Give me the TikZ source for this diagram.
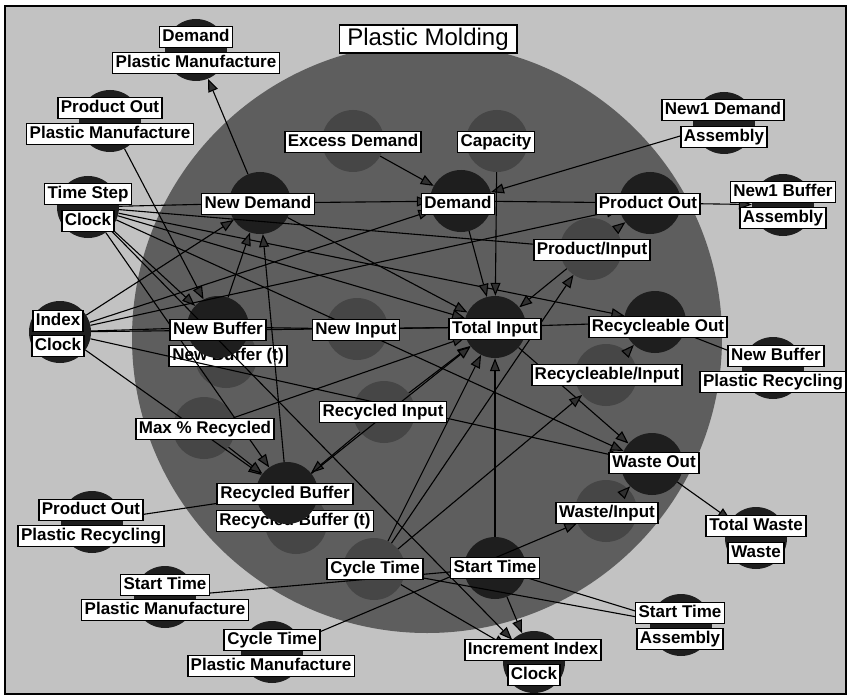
\documentclass[tikz,border=0pt]{standalone}
\usepackage{fontspec}
\setmainfont{Liberation Sans}
\usetikzlibrary{arrows.meta}
\definecolor{bgg}{HTML}{C2C2C2}
\definecolor{bigc}{HTML}{5E5E5E}
\definecolor{medc}{HTML}{464646}
\definecolor{dkc}{HTML}{1E1E1E}
\definecolor{arg}{HTML}{303030}
\begin{document}
\begin{tikzpicture}[x=1pt,y=-1pt,
 dk/.style={circle,fill=dkc,minimum size=62pt,inner sep=0pt},
 md/.style={circle,fill=medc,minimum size=62pt,inner sep=0pt},
 lbl/.style={draw=black,line width=1.6pt,fill=white,font=\bfseries\fontsize{17}{17}\selectfont,inner xsep=3pt,inner ysep=2.5pt,text height=12.5pt,text depth=3.5pt},
 ttl/.style={draw=black,line width=1.6pt,fill=white,font=\fontsize{24}{24}\selectfont,inner xsep=8pt,inner ysep=3pt,text height=17.5pt,text depth=5pt},
 ar/.style={line width=1.1pt,-{Triangle[length=13pt,width=10pt,fill=arg]}}]
\useasboundingbox (0,0) rectangle (849,698);
\fill[white] (0,0) rectangle (849,698);
\fill[bgg] (5,6) rectangle (846,694);
\draw[line width=2pt] (5,6) rectangle (846,694);
\fill[bigc] (427,338) circle[radius=295];
\node[ttl] (title) at (428,39) {Plastic Molding};
% external circles
\node[dk] (DemPM) at (196,50) {};
\node[dk] (POPM) at (110,121) {};
\node[dk] (TS) at (88,207) {};
\node[dk] (Idx) at (60,332) {};
\node[dk] (N1D) at (724,123) {};
\node[dk] (N1B) at (783,205) {};
\node[dk] (NBPR) at (773,368) {};
\node[dk] (POPR) at (92,522) {};
\node[dk] (STPM) at (165,597) {};
\node[dk] (CTPM) at (272,652) {};
\node[dk] (TW) at (756,538) {};
\node[dk] (STA) at (681,625) {};
\node[dk] (II) at (534,662) {};
% internal circles
\node[md] (ED) at (353,141) {};
\node[md] (Cap) at (497,141) {};
\node[dk] (Dem) at (461,201) {};
\node[dk] (ND) at (260,203) {};
\node[dk] (PO) at (650,203) {};
\node[md] (PI) at (591,249) {};
\node[dk] (TI) at (495,327) {};
\node[dk] (RO) at (655,322) {};
\node[md] (RI) at (606,375) {};
\node[md] (NBt) at (226,357) {};
\node[lbl] (NBt-l) at (228,356) {New Buffer (t)};
\node[dk] (NB) at (218,327) {};
\node[md] (NI) at (357,329) {};
\node[md] (MR) at (204,428) {};
\node[md] (RecI) at (384,412) {};
\node[md] (RBt) at (296,523) {};
\node[lbl] (RBt-l) at (295,521) {Recycled Buffer (t)};
\node[dk] (RB) at (287,493) {};
\node[dk] (WO) at (652,464) {};
\node[md] (WI) at (606,511) {};
\node[md] (CT) at (374,569) {};
\node[dk] (ST) at (495,568) {};
% connectors
\draw[ar] (ND) -- (DemPM);
\draw[ar] (POPM) -- (NB);
\draw[ar] (TS) -- (NB);
\draw[ar] (TS) -- (RB);
\draw[ar] (TS) -- (II);
\draw[ar] (TS) -- (TI);
\draw[ar] (TS) -- (RO);
\draw[ar] (TS) -- (WO);
\draw[ar] (TS) -- (PI);
\draw[ar] (TS) -- (ND);
\draw[ar] (Idx) -- (ND);
\draw[ar] (Idx) -- (Dem);
\draw[ar] (Idx) -- (PO);
\draw[ar] (Idx) -- (NB);
\draw[ar] (Idx) -- (TI);
\draw[ar] (Idx) -- (WO);
\draw[ar] (Idx) -- (RB);
\draw[ar] (ND) -- (Dem);
\draw[ar] (ED) -- (Dem);
\draw[ar] (N1D) -- (Dem);
\draw[ar] (Cap) -- (TI);
\draw[ar] (Dem) -- (TI);
\draw[ar] (ND) -- (TI);
\draw[ar] (Dem) -- (PO);
\draw[ar] (PO) -- (N1B);
\draw[ar] (PI) -- (PO);
\draw[ar] (PI) -- (TI);
\draw[ar] (TI) -- (RO);
\draw[ar] (RO) -- (NBPR);
\draw[ar] (RI) -- (RO);
\draw[ar] (NB) -- (NI);
\draw[ar] (NI) -- (TI);
\draw[ar] (NB) -- (ND);
\draw[ar] (RB) -- (ND);
\draw[ar] (MR) -- (RB);
\draw[ar] (MR) -- (TI);
\draw[ar] (RecI) -- (RB);
\draw[ar] (RecI) -- (TI);
\draw[ar] (POPR) -- (RB);
\draw[ar] (RB) -- (TI);
\draw[ar] (TI) -- (WO);
\draw[ar] (WO) -- (TW);
\draw[ar] (WI) -- (WO);
\draw[ar] (CTPM) -- (WI);
\draw[ar] (STPM) -- (ST);
\draw[ar] (ST) -- (TI);
\draw[ar] (ST) -- (STA);
\draw[ar] (CT) -- (STA);
\draw[ar] (CT) -- (II);
\draw[ar] (ST) -- (II);
\draw[ar] (CT) -- (TI);
\draw[ar] (CT) -- (RI);
\draw[ar] (CT) -- (PI);
% labels
\node[lbl] (DemPM-a) at (196,37) {Demand};
\node[lbl] (DemPM-b) at (196,63) {Plastic Manufacture};
\node[lbl] (POPM-a) at (110,108) {Product Out};
\node[lbl] (POPM-b) at (110,134) {Plastic Manufacture};
\node[lbl] (TS-a) at (88,194) {Time Step};
\node[lbl] (TS-b) at (88,221) {Clock};
\node[lbl] (Idx-a) at (58,321) {Index};
\node[lbl] (Idx-b) at (58,346) {Clock};
\node[lbl] (N1D-a) at (723,110) {New1 Demand};
\node[lbl] (N1D-b) at (724,137) {Assembly};
\node[lbl] (N1B-a) at (783,192) {New1 Buffer};
\node[lbl] (N1B-b) at (783,218) {Assembly};
\node[lbl] (NBPR-a) at (776,356) {New Buffer};
\node[lbl] (NBPR-b) at (773,382) {Plastic Recycling};
\node[lbl] (POPR-a) at (91,510) {Product Out};
\node[lbl] (POPR-b) at (91,536) {Plastic Recycling};
\node[lbl] (STPM-a) at (165,585) {Start Time};
\node[lbl] (STPM-b) at (165,610) {Plastic Manufacture};
\node[lbl] (CTPM-a) at (272,640) {Cycle Time};
\node[lbl] (CTPM-b) at (271,666) {Plastic Manufacture};
\node[lbl] (TW-a) at (756,526) {Total Waste};
\node[lbl] (TW-b) at (756,553) {Waste};
\node[lbl] (STA-a) at (680,613) {Start Time};
\node[lbl] (STA-b) at (680,639) {Assembly};
\node[lbl] (II-a) at (533,650) {Increment Index};
\node[lbl] (II-b) at (534,675) {Clock};
\node[lbl] (ED-l) at (353,142) {Excess Demand};
\node[lbl] (Cap-l) at (496,142) {Capacity};
\node[lbl] (Dem-l) at (458,204) {Demand};
\node[lbl] (ND-l) at (258,204) {New Demand};
\node[lbl] (PO-l) at (648,204) {Product Out};
\node[lbl] (PI-l) at (592,250) {Product/Input};
\node[lbl] (TI-l) at (495,329) {Total Input};
\node[lbl] (RO-l) at (658,327) {Recycleable Out};
\node[lbl] (RI-l) at (607,375) {Recycleable/Input};
\node[lbl] (NB-l) at (218,330) {New Buffer};
\node[lbl] (NI-l) at (356,330) {New Input};
\node[lbl] (MR-l) at (205,429) {Max \% Recycled};
\node[lbl] (RecI-l) at (383,412) {Recycled Input};
\node[lbl] (RB-l) at (285,494) {Recycled Buffer};
\node[lbl] (WO-l) at (654,463) {Waste Out};
\node[lbl] (WI-l) at (607,513) {Waste/Input};
\node[lbl] (CT-l) at (375,569) {Cycle Time};
\node[lbl] (ST-l) at (495,568) {Start Time};
\end{tikzpicture}
\end{document}
